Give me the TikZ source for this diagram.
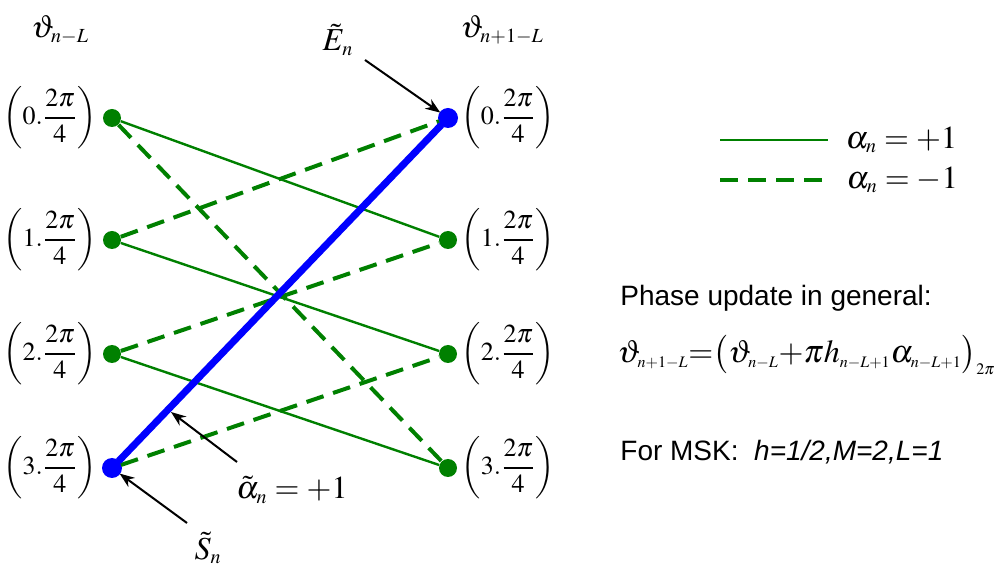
\documentclass[tikz,border=0pt]{standalone}
\usepackage{amsmath}
\usepackage{mathptmx}
\usepackage{fontspec}
\setmainfont{Liberation Serif}
\setsansfont{Liberation Sans}
\usetikzlibrary{arrows.meta, positioning}
\definecolor{trelgreen}{RGB}{0,128,0}
\DeclareMathSizes{16}{16}{10}{7}
\DeclareMathSizes{18}{18}{9}{7}

\begin{document}
\begin{tikzpicture}[
    x=0.5pt, y=-0.5pt,
    >=Stealth, % arrow tips
    % trellis states
    state/.style={circle, fill=trelgreen, inner sep=0pt, minimum size=9pt},
    beststate/.style={state, fill=blue, minimum size=10pt},
    % phase labels next to the states
    phase/.style={inner sep=1pt, font=\fontsize{13}{15}\selectfont},
    % transitions
    plus/.style={draw=trelgreen, line width=1.2pt},
    minus/.style={draw=trelgreen, line width=2pt, dash pattern=on 9pt off 5pt},
    best/.style={draw=blue, line width=3.5pt},
    pointer/.style={->, line width=1pt},
    lab/.style={font=\fontsize{16}{18}\selectfont},
    txt/.style={font=\sffamily\fontsize{14}{16}\selectfont, anchor=west, inner sep=0pt}
]
\useasboundingbox (0,0) rectangle (1003,577);

% 1. states and their phases
\foreach \i/\y in {0/118, 1/240, 2/354, 3/468} {
    \node [state] (l\i) at (112,\y) {};
    \node [state] (r\i) at (448,\y) {};
    \node [phase, left=2pt of l\i] (pl\i) {$\biggl(\i.\dfrac{2\pi}{4}\biggr)$};
    \node [phase, right=1pt of r\i] (pr\i) {$\biggl(\i.\dfrac{2\pi}{4}\biggr)$};
}
\node [beststate] at (l3) {};
\node [beststate] at (r0) {};

\node [lab] (thL) at (60,30) {$\vartheta_{n-L}$};
\node [lab] (thR) at (502,30) {$\vartheta_{n+1-L}$};

% 2. transitions
\draw [plus] (l0) -- (r1);
\draw [plus] (l1) -- (r2);
\draw [plus] (l2) -- (r3);
\draw [minus] (l0) -- (r3);
\draw [minus] (l1) -- (r0);
\draw [minus] (l2) -- (r1);
\draw [minus] (l3) -- (r2);
\draw [best] (l3) -- (r0);

% 3. annotations
\node [lab] (eLab) at (338,40) {$\tilde{E}_n$};
\coordinate (eTail) at (365,60);
\draw [pointer] (eTail) -- (r0);

\node [lab] (aLab) at (292,490) {$\tilde{\alpha}_n = +1$};
\coordinate (aTail) at (237,462);
\coordinate (aTip) at (171,412);
\draw [pointer] (aTail) -- (aTip);

\node [lab] (sLab) at (208,548) {$\tilde{S}_n$};
\coordinate (sTail) at (187,523);
\draw [pointer] (sTail) -- (l3);

% 4. legend and text
\coordinate (legA1) at (720,140);
\coordinate (legA2) at (828,140);
\coordinate (legB1) at (720,180);
\coordinate (legB2) at (828,180);
\draw [plus] (legA1) -- (legA2) node [lab, right=5pt] {$\alpha_n = +1$};
\draw [minus] (legB1) -- (legB2) node [lab, right=5pt] {$\alpha_n = -1$};

\node [txt] (phTxt) at (620,298) {Phase update in general:};
\node [anchor=west, inner sep=0pt, font=\fontsize{18}{20}\selectfont] (phEq) at (617,355)
    {\resizebox{189pt}{!}{$\vartheta_{n+1-L}{=}\bigl(\vartheta_{n-L}{+}\pi h_{n-L+1}\alpha_{n-L+1}\bigr)_{2\pi}$}};
\node [txt] (mskTxt) at (620,452) {For MSK:\ \ \textit{h=1/2,M=2,L=1}};

\end{tikzpicture}
\end{document}
